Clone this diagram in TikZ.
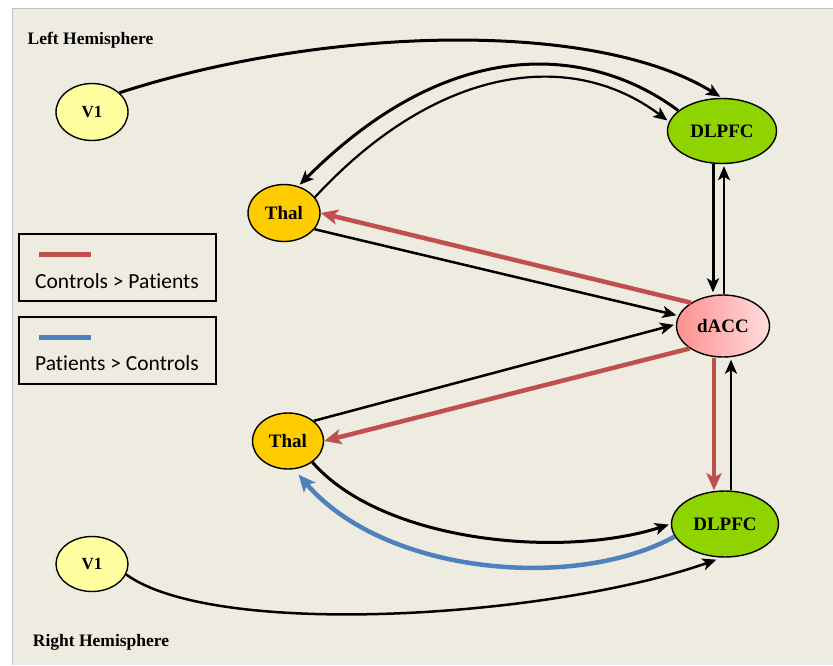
\documentclass[tikz,border=0pt]{standalone}
\usepackage{fontspec}
\setmainfont{Liberation Serif}
\newfontfamily\legendfont[Ligatures=NoCommon]{Carlito}
\usetikzlibrary{arrows.meta,shapes.geometric}
\definecolor{bgtan}{HTML}{EEECE1}
\definecolor{vone}{HTML}{FFFF9F}
\definecolor{thalcol}{HTML}{FFCC00}
\definecolor{pfccol}{HTML}{8FD300}
\definecolor{acclo}{HTML}{FF9090}
\definecolor{acchi}{HTML}{FFDCDC}
\definecolor{ctrlred}{HTML}{C0504D}
\definecolor{patblue}{HTML}{4F81BD}

\begin{document}
\begin{tikzpicture}[x=1pt, y=-1pt,
    region/.style={ellipse, draw, line width=1.4pt, inner sep=0pt, font=\bfseries\fontsize{19}{19}\selectfont},
    link/.style={line width=3pt, -{Stealth[length=14pt,width=12pt,inset=3.5pt]}, shorten >=2pt},
    thin link/.style={link, line width=2.2pt},
    ctrl/.style={draw=ctrlred, line width=4.5pt, -{Stealth[length=17pt,width=15pt,inset=4pt]}},
    pat/.style={ctrl, draw=patblue},
    legbox/.style={draw, line width=1.4pt, minimum width=197, minimum height=67},
    legtext/.style={font=\legendfont\fontsize{21.5}{21.5}\selectfont},
    hemi/.style={font=\bfseries\fontsize{17.5}{17.5}\selectfont}]
    \useasboundingbox (0,0) rectangle (833,665);
    \fill[white] (0,0) rectangle (833,665);
    \fill[bgtan] (12,8) rectangle (833,665);
    \draw[black!25, line width=1pt] (12,665) -- (12,8) -- (833,8);

    \node[hemi] (lefthemi) at (90.5,40) {Left Hemisphere};
    \node[hemi] (righthemi) at (101,642) {Right Hemisphere};

    \node[region, fill=vone, minimum width=72, minimum height=57, font=\bfseries\fontsize{17}{17}\selectfont] (v1l) at (92,112) {V1};
    \node[region, fill=thalcol, minimum width=72, minimum height=57] (thall) at (284,213) {Thal};
    \node[region, fill=pfccol, minimum width=109, minimum height=65] (dlpfcl) at (722,131) {DLPFC};
    \node[region, left color=acclo, right color=acchi, minimum width=93, minimum height=62] (dacc) at (723,326) {dACC};
    \node[region, fill=thalcol, minimum width=71, minimum height=56] (thalr) at (288,441) {Thal};
    \node[region, fill=pfccol, minimum width=107, minimum height=66] (dlpfcr) at (725,524) {DLPFC};
    \node[region, fill=vone, minimum width=72, minimum height=55, font=\bfseries\fontsize{17}{17}\selectfont] (v1r) at (92,564) {V1};

    \node[legbox] (legc) at (117.5,267.5) {};
    \node[legbox] (legp) at (117.5,350.5) {};
    \node[legtext] (legctext) at (117,281) {Controls > Patients};
    \node[legtext] (legptext) at (117,363) {Patients > Controls};
    \draw[ctrlred, line width=4.5pt] ([shift={(21,21)}]legc.north west) -- +(52,0);
    \draw[patblue, line width=4.5pt] ([shift={(21,21)}]legp.north west) -- +(52,0);

    \draw[link] (v1l.35) .. controls +(200,-65) and +(-130,-80) .. (dlpfcl.north);
    \draw[link] (dlpfcl.155) .. controls +(-80,-60) and +(160,-160) .. (thall.62);
    \draw[thin link] (thall.27) .. controls +(120,-130) and +(-100,-75) .. (dlpfcl.170);
    \draw[link] ([xshift=-9pt]dlpfcl.south) -- ([xshift=-10pt]dacc.north);
    \draw[thin link, line width=2.5pt] ([xshift=1pt]dacc.north) -- ([xshift=2pt]dlpfcl.south);

    \draw[ctrl] (dacc.144) -- (thall.east);
    \draw[thin link, line width=2.5pt] (thall.-28) -- (dacc.167);
    \draw[thin link, line width=2.5pt] (thalr.38) -- (dacc.178);
    \draw[ctrl] (dacc.214) -- (thalr.east);

    \draw[ctrl] ([xshift=-9pt]dacc.south) -- ([xshift=-11pt]dlpfcr.north);
    \draw[thin link] ([xshift=6pt]dlpfcr.north) -- ([xshift=8pt]dacc.south);

    \draw[link] (thalr.-41) .. controls +(70,80) and +(-110,35) .. (dlpfcr.west);
    \draw[pat, shorten >=7pt] (dlpfcr.194) .. controls +(-100,55) and +(90,105) .. (thalr.-78);
    \draw[thin link, line width=2.5pt, shorten >=6pt] (v1r.-17) .. controls +(90,65) and +(-170,60) .. (dlpfcr.-95);
\end{tikzpicture}
\end{document}
